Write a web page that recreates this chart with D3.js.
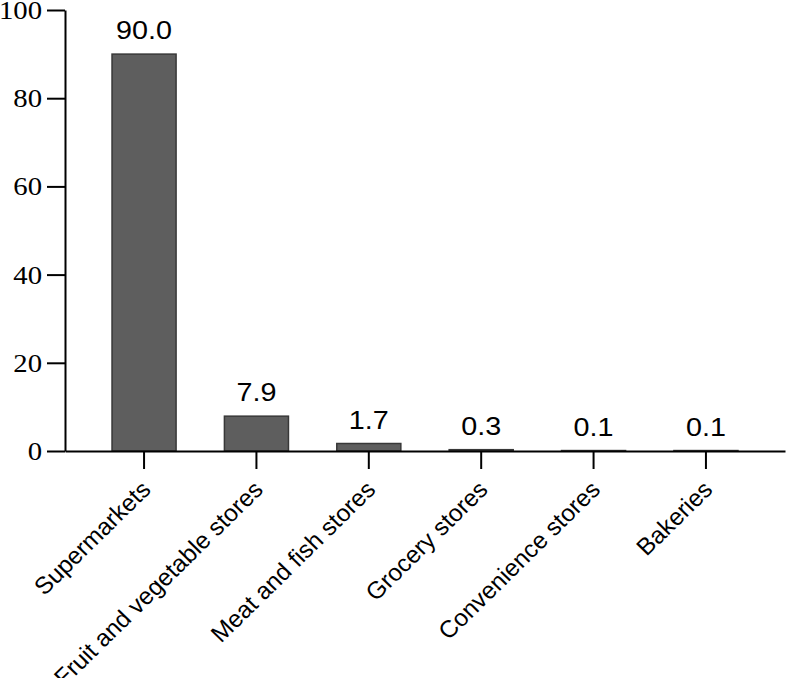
<!DOCTYPE html>
<html>
<head>
<meta charset="utf-8">
<script src="https://cdn.jsdelivr.net/npm/d3@7"></script>
<style>
  html, body { margin: 0; padding: 0; background: #fff; }
  svg { display: block; }
  .ylab { font-family: "Liberation Serif", "Times New Roman", serif; }
  .sans { font-family: "Liberation Sans", Arial, sans-serif; }
</style>
</head>
<body>
<svg id="chart" width="787" height="678"></svg>
<script>
const categories = ["Supermarkets", "Fruit and vegetable stores", "Meat and fish stores", "Grocery stores", "Convenience stores", "Bakeries"];
const values = [90.0, 7.9, 1.7, 0.3, 0.1, 0.1];
const yTicks = [0, 20, 40, 60, 80, 100];

const svg = d3.select("#chart");
const SX = 1.15;  // horizontal stretch of the original numeric text
const SXL = 1.02; // stretch for category labels

const x = d3.scaleBand().domain(categories).range([65, 785]).paddingInner(0.43).paddingOuter(0.4185);
const y = d3.scaleLinear().domain([0, 100]).range([451, 10]);

// bars
svg.append("g").selectAll("rect").data(values).join("rect")
  .attr("x", (d, i) => x(categories[i]))
  .attr("y", d => y(d))
  .attr("width", x.bandwidth())
  .attr("height", d => y(0) - y(d))
  .attr("fill", "#5e5e5e")
  .attr("stroke", "#383838")
  .attr("stroke-width", 1.5);

// value labels
svg.append("g").selectAll("text").data(values).join("text")
  .attr("class", "sans")
  .attr("transform", (d, i) => `translate(${x(categories[i]) + x.bandwidth() / 2},${y(d) - 15}) scale(${SX},1)`)
  .attr("text-anchor", "middle")
  .style("font-size", "25px")
  .attr("fill", "#000")
  .text(d => d.toFixed(1));

// y axis
const yAxis = svg.append("g").attr("transform", "translate(65,0)")
  .call(d3.axisLeft(y).tickValues(yTicks).tickSize(18).tickPadding(5).tickSizeOuter(0));
yAxis.attr("font-family", null).attr("font-size", null);
yAxis.select(".domain").attr("stroke", "#000").attr("stroke-width", 2);
yAxis.selectAll(".tick line").attr("stroke", "#000").attr("stroke-width", 2);
yAxis.selectAll(".tick text")
  .attr("class", "ylab")
  .style("font-size", "25px")
  .attr("fill", "#000")
  .attr("x", null).attr("dy", "0.34em")
  .attr("transform", `translate(-23,0) scale(${SX},1)`);

// x axis
const xAxis = svg.append("g").attr("transform", "translate(0,451)")
  .call(d3.axisBottom(x).tickSize(18).tickSizeOuter(0));
xAxis.attr("font-family", null).attr("font-size", null);
xAxis.select(".domain").attr("stroke", "#000").attr("stroke-width", 2);
xAxis.selectAll(".tick line").attr("stroke", "#000").attr("stroke-width", 2);
xAxis.selectAll(".tick text")
  .attr("class", "sans")
  .style("font-size", "24px")
  .attr("fill", "#000")
  .attr("x", null).attr("y", null).attr("dy", null)
  .attr("text-anchor", "end")
  .attr("transform", `translate(8,40) scale(${SXL},1) rotate(-45)`);
</script>
</body>
</html>
